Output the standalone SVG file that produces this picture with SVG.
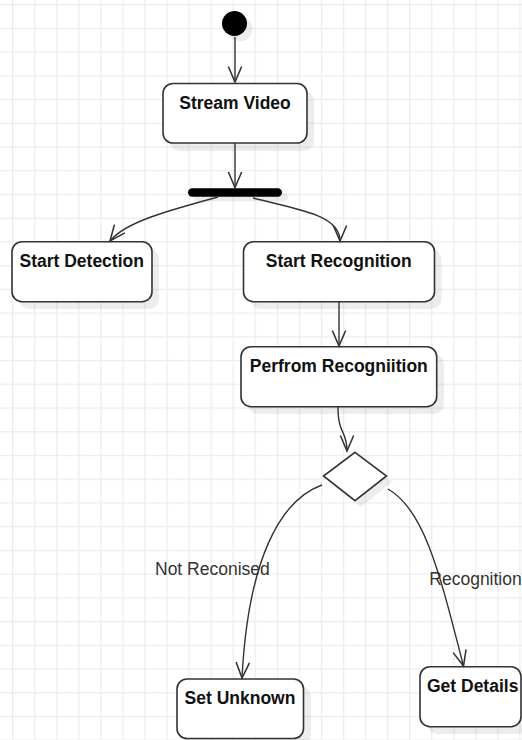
<svg xmlns="http://www.w3.org/2000/svg" width="522" height="740" viewBox="0 0 522 740">
<style>
.box{fill:#fff;stroke:#333;stroke-width:1.6}
.shd{fill:#000;fill-opacity:0.07}
.t{font-family:"Liberation Sans",Arial,sans-serif;font-size:17.5px;font-weight:bold;fill:#111;text-anchor:middle}
.lbl{font-family:"Liberation Sans",Arial,sans-serif;font-size:17.5px;fill:#333}
.edge{fill:none;stroke:#333;stroke-width:1.4}
</style>
<defs>
<pattern id="grid" patternUnits="userSpaceOnUse" x="12" y="4" width="22.06" height="23.73">
<path d="M0.6 0V23.73M0 0.6H22.06" stroke="#ececec" stroke-width="1.3" fill="none"/>
</pattern>
<marker id="arr" markerUnits="userSpaceOnUse" markerWidth="20" markerHeight="20" refX="0" refY="0" viewBox="-16 -8 18 16" orient="auto" overflow="visible">
<path d="M-14,-6 L0,0 L-14,6" fill="none" stroke="#333" stroke-width="1.4"/>
</marker>
</defs>
<rect width="522" height="740" fill="#fff"/>
<rect width="522" height="740" fill="url(#grid)"/>

<g id="start">
<circle cx="240" cy="29" r="12.5" class="shd"/>
<circle cx="234.5" cy="23.5" r="12.5" fill="#000"/>
</g>
<g id="stream-video">
<rect x="170" y="91" width="144" height="60" rx="10" class="shd"/>
<rect x="163" y="83.5" width="144" height="59.5" rx="10" class="box"/>
<text x="235" y="108.5" class="t">Stream Video</text>
</g>
<g id="fork">
<rect x="194" y="193" width="94" height="8.5" rx="4" class="shd"/>
<rect x="188" y="188.3" width="94" height="8.5" rx="4.2" fill="#000"/>
</g>
<g id="start-detection">
<rect x="19" y="249" width="140" height="60" rx="10" class="shd"/>
<rect x="12" y="241.7" width="140" height="60" rx="10" class="box"/>
<text x="81.7" y="267.3" class="t">Start Detection</text>
</g>
<g id="start-recognition">
<rect x="250.5" y="249" width="191" height="60" rx="10" class="shd"/>
<rect x="243.5" y="241.7" width="191" height="60" rx="10" class="box"/>
<text x="338.7" y="267.3" class="t">Start Recognition</text>
</g>
<g id="perform-recognition">
<rect x="248" y="354" width="196" height="60" rx="10" class="shd"/>
<rect x="241" y="346.7" width="195.7" height="60" rx="10" class="box"/>
<text x="338.8" y="372.3" class="t">Perfrom Recogniition</text>
</g>
<g id="decision">
<polygon points="361,458 392,482 361,507 329,482" class="shd"/>
<polygon points="355,452.3 386.5,476 355,500.7 323.5,476" class="box" stroke-width="1.4"/>
</g>
<g id="set-unknown">
<rect x="184" y="686" width="127" height="60" rx="10" class="shd"/>
<rect x="177" y="679" width="126.5" height="59.5" rx="10" class="box"/>
<text x="240" y="704" class="t">Set Unknown</text>
</g>
<g id="get-details">
<rect x="427" y="674" width="102" height="60" rx="10" class="shd"/>
<rect x="420" y="666.7" width="101" height="60" rx="10" class="box"/>
<text x="472.7" y="692.3" class="t">Get Details</text>
</g>

<g id="connectors">
<path d="M235,37 L235,82" class="edge" marker-end="url(#arr)"/>
<path d="M235,143 L235,187.5" class="edge" marker-end="url(#arr)"/>
<path d="M218,197 C170,210 125,222 110,241" class="edge" marker-end="url(#arr)"/>
<path d="M253,198 C300,210 340,215 340,241" class="edge" marker-end="url(#arr)"/>
<path d="M339,302 L339,346" class="edge" marker-end="url(#arr)"/>
<path d="M338,407 C338,435 347,430 347,451" class="edge" marker-end="url(#arr)"/>
<path d="M322,485 C280,500 248,560 242,678" class="edge" marker-end="url(#arr)"/>
<path d="M388,489 C425,510 440,575 463.5,666" class="edge" marker-end="url(#arr)"/>
<text x="155" y="575" class="lbl">Not Reconised</text>
<text x="429.3" y="585" class="lbl">Recognition</text>
</g>
</svg>
